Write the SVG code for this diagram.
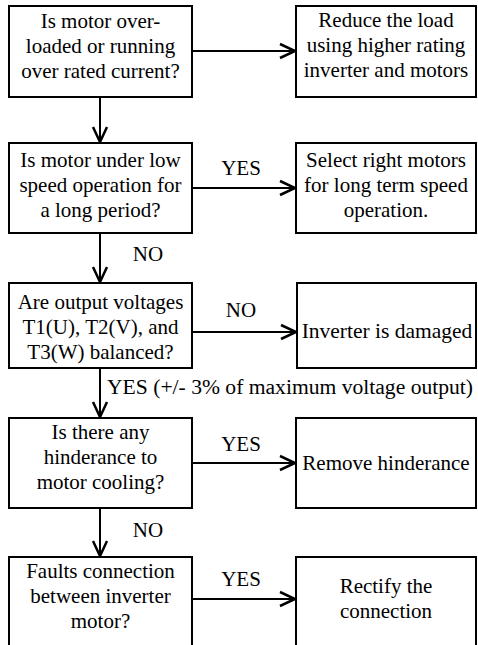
<svg xmlns="http://www.w3.org/2000/svg" width="478" height="645" viewBox="0 0 478 645">
<style>
.box{fill:#fff;stroke:#000;stroke-width:2}
.t{font-family:"Liberation Serif","Times New Roman",serif;font-size:21px;fill:#000;text-anchor:middle}
.l{font-family:"Liberation Serif","Times New Roman",serif;font-size:21.6px;fill:#000}
.c{fill:none;stroke:#000;stroke-width:2}
.h{fill:none;stroke:#000;stroke-width:2.5;stroke-linejoin:miter}
</style>
<rect width="478" height="645" fill="#fff"/>
<g id="connectors">
<line class="c" x1="192" y1="51" x2="295" y2="51"/>
<polyline class="h" points="280,44 295,51 280,58"/>
<line class="c" x1="100" y1="97" x2="100" y2="142"/>
<polyline class="h" points="93,127 100,142 107,127"/>
<line class="c" x1="192" y1="188" x2="295" y2="188"/>
<polyline class="h" points="280,181 295,188 280,195"/>
<text class="t" x="241" y="175">YES</text>
<line class="c" x1="100" y1="233" x2="100" y2="282"/>
<polyline class="h" points="93,267 100,282 107,267"/>
<text class="t" x="148" y="261">NO</text>
<line class="c" x1="192" y1="332" x2="296" y2="332"/>
<polyline class="h" points="281,325 296,332 281,339"/>
<text class="t" x="241" y="317">NO</text>
<line class="c" x1="100" y1="368" x2="100" y2="417"/>
<polyline class="h" points="93,402 100,417 107,402"/>
<text class="l" x="107" y="394">YES (+/- 3% of maximum voltage output)</text>
<line class="c" x1="192" y1="463" x2="295" y2="463"/>
<polyline class="h" points="280,456 295,463 280,470"/>
<text class="t" x="241" y="451">YES</text>
<line class="c" x1="100" y1="508" x2="100" y2="556"/>
<polyline class="h" points="93,541 100,556 107,541"/>
<text class="t" x="148" y="537">NO</text>
<line class="c" x1="192" y1="599" x2="295" y2="599"/>
<polyline class="h" points="280,592 295,599 280,606"/>
<text class="t" x="241" y="586">YES</text>
</g>
<g id="q1">
<rect class="box" x="9" y="6" width="183" height="91"/>
<text class="t" x="100.5" y="28">Is motor over-</text>
<text class="t" x="100.5" y="53">loaded or running</text>
<text class="t" x="100.5" y="78">over rated current?</text>
</g>
<g id="a1">
<rect class="box" x="296" y="6" width="180" height="91"/>
<text class="t" x="386" y="27">Reduce the load</text>
<text class="t" x="386" y="52">using higher rating</text>
<text class="t" x="386" y="77">inverter and motors</text>
</g>
<g id="q2">
<rect class="box" x="9" y="143" width="183" height="90"/>
<text class="t" x="100.5" y="167">Is motor under low</text>
<text class="t" x="100.5" y="192">speed operation for</text>
<text class="t" x="100.5" y="217">a long period?</text>
</g>
<g id="a2">
<rect class="box" x="296" y="143" width="180" height="90"/>
<text class="t" x="386" y="167">Select right motors</text>
<text class="t" x="386" y="192">for long term speed</text>
<text class="t" x="386" y="217">operation.</text>
</g>
<g id="q3">
<rect class="box" x="9" y="283" width="183" height="85"/>
<text class="t" x="100.5" y="309">Are output voltages</text>
<text class="t" x="100.5" y="334">T1(U), T2(V), and</text>
<text class="t" x="100.5" y="359">T3(W) balanced?</text>
</g>
<g id="a3">
<rect class="box" x="297" y="283" width="179" height="85"/>
<text class="t" x="387" y="338" style="font-size:21.5px">Inverter is damaged</text>
</g>
<g id="q4">
<rect class="box" x="9" y="418" width="183" height="90"/>
<text class="t" x="100.5" y="439">Is there any</text>
<text class="t" x="100.5" y="464">hinderance to</text>
<text class="t" x="100.5" y="489">motor cooling?</text>
</g>
<g id="a4">
<rect class="box" x="296" y="418" width="180" height="90"/>
<text class="t" x="386" y="470">Remove hinderance</text>
</g>
<g id="q5">
<rect class="box" x="9" y="557" width="183" height="95"/>
<text class="t" x="100.5" y="578">Faults connection</text>
<text class="t" x="100.5" y="603">between inverter</text>
<text class="t" x="100.5" y="628">motor?</text>
</g>
<g id="a5">
<rect class="box" x="296" y="557" width="180" height="95"/>
<text class="t" x="386" y="593">Rectify the</text>
<text class="t" x="386" y="618">connection</text>
</g>
</svg>
